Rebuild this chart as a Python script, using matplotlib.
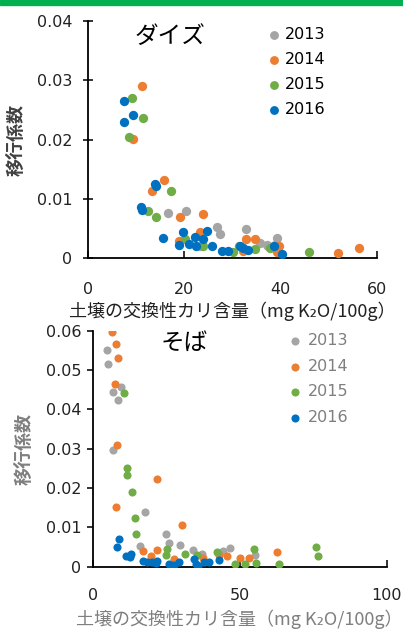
import numpy as np
import matplotlib
matplotlib.use("Agg")
import matplotlib.pyplot as plt

plt.rcParams['font.family'] = ['Noto Sans CJK JP', 'DejaVu Sans']

years = ['2013', '2014', '2015', '2016']
colors = ['#A5A5A5', '#ED7D31', '#70AD47', '#0070C0']

# ダイズ (soybean): soil exchangeable K vs transfer factor
soy_x_2013 = [16.6, 20.3, 26.7, 27.4, 32.8, 23.2, 35.7, 37.1, 38.8, 39.2, 37.4, 32.2]
soy_y_2013 = [0.0077, 0.0080, 0.0052, 0.0041, 0.0049, 0.0020, 0.0025, 0.0022, 0.0023, 0.0035, 0.0021, 0.0017]
soy_x_2014 = [11.2, 9.2, 15.7, 13.2, 19.1, 23.9, 18.9, 23.2, 32.7, 34.7, 32.2, 39.7, 39.2, 51.9, 56.2]
soy_y_2014 = [0.0290, 0.0201, 0.0132, 0.0114, 0.0070, 0.0074, 0.0030, 0.0044, 0.0032, 0.0032, 0.0012, 0.0020, 0.0010, 0.0009, 0.0017]
soy_x_2015 = [9.0, 11.3, 8.5, 17.3, 12.5, 14.1, 20.1, 23.9, 30.2, 31.4, 34.7, 37.8, 46.0]
soy_y_2015 = [0.0270, 0.0236, 0.0204, 0.0114, 0.0080, 0.0070, 0.0032, 0.0021, 0.0011, 0.0020, 0.0015, 0.0017, 0.0010]
soy_x_2016 = [7.4, 7.4, 9.2, 13.9, 14.0, 11.0, 11.2, 15.5, 19.6, 18.9, 20.9, 22.2, 22.5, 23.9, 24.6,
              25.7, 27.8, 29.1, 31.6, 32.2, 33.3, 38.6, 40.2]
soy_y_2016 = [0.0265, 0.0230, 0.0242, 0.0125, 0.0121, 0.0087, 0.0082, 0.0034, 0.0044, 0.0022, 0.0024, 0.0036, 0.0021, 0.0032, 0.0046,
              0.0020, 0.0013, 0.0012, 0.0020, 0.0017, 0.0014, 0.0020, 0.0008]

# そば (buckwheat)
soba_x_2013 = [5.0, 5.3, 7.0, 9.5, 8.7, 7.0, 17.8, 24.9, 25.8, 29.7, 16.1, 34.2, 46.7, 44.4, 55.2, 37.1]
soba_y_2013 = [0.0551, 0.0515, 0.0445, 0.0458, 0.0424, 0.0297, 0.0138, 0.0083, 0.0061, 0.0055, 0.0053, 0.0043, 0.0047, 0.0041, 0.0030, 0.0032]
soba_x_2014 = [6.7, 7.8, 8.7, 7.6, 8.4, 7.9, 21.8, 30.5, 17.2, 21.8, 20.0, 62.6, 53.3, 50.0, 45.8, 37.5, 27.5, 43.0]
soba_y_2014 = [0.0596, 0.0566, 0.0531, 0.0465, 0.0309, 0.0153, 0.0223, 0.0106, 0.0041, 0.0042, 0.0028, 0.0037, 0.0023, 0.0021, 0.0026, 0.0022, 0.0020, 0.0030]
soba_x_2015 = [10.6, 11.6, 11.6, 13.5, 14.4, 14.7, 25.4, 24.9, 31.5, 42.2, 54.9, 55.5, 48.4, 51.8, 63.5, 76.0, 76.7, 35.4]
soba_y_2015 = [0.0441, 0.0252, 0.0233, 0.0191, 0.0125, 0.0082, 0.0045, 0.0030, 0.0032, 0.0038, 0.0045, 0.0010, 0.0007, 0.0006, 0.0006, 0.0051, 0.0028, 0.0030]
soba_x_2016 = [9.0, 8.4, 11.3, 12.9, 12.7, 17.0, 18.5, 20.2, 21.5, 22.0, 26.0, 27.5, 29.5, 34.4, 35.3, 35.9, 37.8, 39.5, 42.9]
soba_y_2016 = [0.0070, 0.0051, 0.0027, 0.0032, 0.0025, 0.0014, 0.0011, 0.0013, 0.0010, 0.0015, 0.0008, 0.0005, 0.0011, 0.0019, 0.0008, 0.0002, 0.0012, 0.0013, 0.0017]

xlabel = '土壌の交換性カリ含量（mg K₂O/100g）'
numfont = 'DejaVu Sans'

fig = plt.figure(figsize=(4.03, 6.31), dpi=100)
fig.patches.append(plt.Rectangle((0, 0.992), 1, 0.008, transform=fig.transFigure,
                                 color='#00B050', zorder=0))

# ---- top: soybean
ax1 = fig.add_axes([0.219, 0.5906, 0.716, 0.3766])
for yr, c, xs, ys in zip(years, colors,
                         [soy_x_2013, soy_x_2014, soy_x_2015, soy_x_2016],
                         [soy_y_2013, soy_y_2014, soy_y_2015, soy_y_2016]):
    ax1.scatter(xs, ys, s=45, color=c, label=yr, linewidths=0, zorder=3)
ax1.set_xlim(0, 60)
ax1.set_ylim(0, 0.04)
ax1.set_xticks([0, 20, 40, 60])
ax1.set_yticks([0, 0.01, 0.02, 0.03, 0.04])
ax1.set_yticklabels(['0', '0.01', '0.02', '0.03', '0.04'])
for s in ['top', 'right']:
    ax1.spines[s].set_visible(False)
ax1.spines['left'].set_linewidth(1.3)
ax1.spines['bottom'].set_linewidth(1.3)
ax1.tick_params(axis='x', direction='in', length=5, width=1.3, pad=17, labelsize=11.5, colors='#222222')
ax1.tick_params(axis='y', direction='inout', length=7, width=1.3, pad=8, labelsize=11.5, colors='#222222')
for lb in ax1.get_xticklabels() + ax1.get_yticklabels():
    lb.set_family(numfont)
ax1.set_ylabel('移行係数', fontsize=13, color='#404040', fontweight='bold', labelpad=8)
ax1.set_xlabel(xlabel, fontsize=13, color='#222222', labelpad=3)
ax1.text(0.285, 0.935, 'ダイズ', transform=ax1.transAxes, fontsize=17, ha='center', va='center')
leg1 = ax1.legend(loc='upper left', bbox_to_anchor=(0.6, 1.0), frameon=False,
                  prop={'family': numfont, 'size': 11.5}, handlelength=0.8,
                  handletextpad=0.3, labelspacing=0.62, markerscale=0.95, borderaxespad=0)

# ---- bottom: buckwheat
ax2 = fig.add_axes([0.230, 0.1019, 0.7296, 0.374])
for yr, c, xs, ys in zip(years, colors,
                         [soba_x_2013, soba_x_2014, soba_x_2015, soba_x_2016],
                         [soba_y_2013, soba_y_2014, soba_y_2015, soba_y_2016]):
    ax2.scatter(xs, ys, s=34, color=c, label=yr, linewidths=0, zorder=3)
ax2.set_xlim(0, 100)
ax2.set_ylim(0, 0.06)
ax2.set_xticks([0, 50, 100])
ax2.set_yticks([0, 0.01, 0.02, 0.03, 0.04, 0.05, 0.06])
ax2.set_yticklabels(['0', '0.01', '0.02', '0.03', '0.04', '0.05', '0.06'])
for s in ['top', 'right']:
    ax2.spines[s].set_visible(False)
ax2.spines['left'].set_linewidth(1.3)
ax2.spines['bottom'].set_linewidth(1.3)
ax2.tick_params(axis='x', direction='in', length=5, width=1.3, pad=15, labelsize=11.5, colors='#222222')
ax2.tick_params(axis='y', direction='out', length=4, width=1.3, pad=4, labelsize=11.5, colors='#222222')
for lb in ax2.get_xticklabels() + ax2.get_yticklabels():
    lb.set_family(numfont)
ax2.set_ylabel('移行係数', fontsize=13, color='#7F7F7F', fontweight='bold', labelpad=9)
ax2.set_xlabel(xlabel, fontsize=13, color='#7F7F7F', labelpad=5)
ax2.text(0.31, 0.945, 'そば', transform=ax2.transAxes, fontsize=17, ha='center', va='center')
leg2 = ax2.legend(loc='upper left', bbox_to_anchor=(0.646, 1.016), frameon=False,
                  prop={'family': numfont, 'size': 11.5}, handlelength=0.8,
                  handletextpad=0.41, labelspacing=0.66, markerscale=1.0, borderaxespad=0,
                  labelcolor='#7F7F7F')

fig.savefig('out.png', dpi=100)
